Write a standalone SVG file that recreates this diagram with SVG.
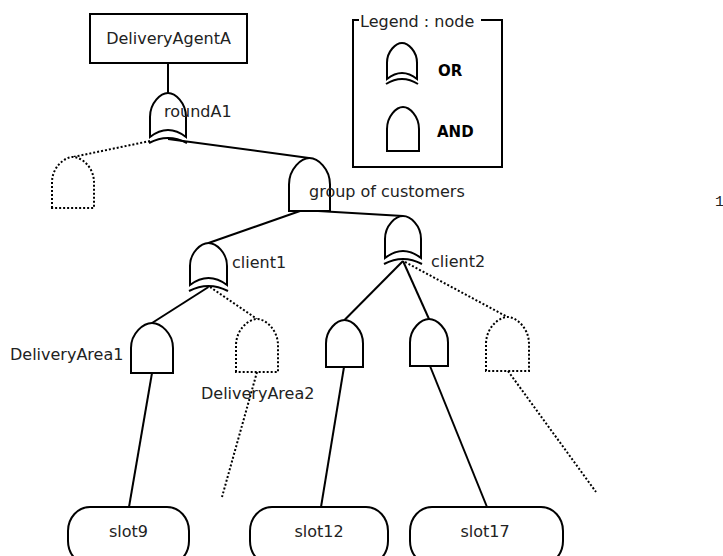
<svg xmlns="http://www.w3.org/2000/svg" width="723" height="556" viewBox="0 0 723 556">
<style>
.ln{stroke:#000;stroke-width:2;fill:none}
.dt{stroke:#000;stroke-width:2;fill:none;stroke-dasharray:2,2}
.g{stroke:#000;stroke-width:2;fill:#fff}
.gd{stroke:#000;stroke-width:2;fill:#fff;stroke-dasharray:2,2}
.t{font-family:"DejaVu Sans",sans-serif;font-size:16px;fill:#222}
.b{font-family:"DejaVu Sans",sans-serif;font-size:15px;font-weight:bold;fill:#000}
</style>
<rect width="723" height="556" fill="#fff"/>
<g id="connectors">
<line class="ln" x1="168" y1="63" x2="168" y2="93"/>
<line class="ln" x1="168" y1="139" x2="309" y2="158"/>
<line class="dt" x1="150" y1="141" x2="73" y2="157"/>
<line class="ln" x1="300" y1="211" x2="208.5" y2="243"/>
<line class="ln" x1="318" y1="211" x2="403" y2="216"/>
<line class="ln" x1="208.5" y1="287" x2="152" y2="323"/>
<line class="dt" x1="210" y1="287" x2="257" y2="319"/>
<line class="ln" x1="403" y1="261" x2="344.5" y2="320"/>
<line class="ln" x1="403" y1="261" x2="429" y2="319"/>
<line class="dt" x1="405" y1="262" x2="507.5" y2="317"/>
<line class="ln" x1="152" y1="373" x2="129" y2="507"/>
<line class="dt" x1="257" y1="372" x2="222" y2="497"/>
<line class="ln" x1="344" y1="367" x2="321" y2="507"/>
<line class="ln" x1="430" y1="366" x2="487" y2="507"/>
<line class="dt" x1="508" y1="371" x2="596" y2="492"/>
</g>
<g id="DeliveryAgentA">
<rect class="g" x="90" y="14" width="157" height="49"/>
<text class="t" x="168.5" y="44" text-anchor="middle">DeliveryAgentA</text>
</g>
<g id="roundA1">
<path class="g" d="M150,137 L150,117 C150,102.7 160.8,93 168,93 C175.2,93 186,102.7 186,117 L186,137 Q168,123 150,137 Z"/>
<path class="ln" d="M149,143 Q168,133 187,143"/>
<text class="t" x="164" y="117">roundA1</text>
</g>
<g id="hiddenA">
<path class="gd" d="M52,208 L52,182.5 C52,167 64.6,157 73,157 C81.4,157 94,167 94,182.5 L94,208 Z"/>
</g>
<g id="group">
<path class="g" d="M289,211 L289,184.5 C289,168.6 301.3,158 309.5,158 C317.7,158 330,168.6 330,184.5 L330,211 Z"/>
<text class="t" x="309" y="197">group of customers</text>
</g>
<g id="client1">
<path class="g" d="M190,285 L190,266 C190,252.2 201.1,243 208.5,243 C215.9,243 227,252.2 227,266 L227,285 Q208.5,271 190,285 Z"/>
<path class="ln" d="M189,291 Q208.5,281 228,291"/>
<text class="t" x="232" y="268">client1</text>
</g>
<g id="client2">
<path class="g" d="M385,258 L385,239 C385,225.2 395.8,216 403,216 C410.2,216 421,225.2 421,239 L421,258 Q403,244 385,258 Z"/>
<path class="ln" d="M384,264 Q403,254 422,264"/>
<text class="t" x="431" y="267">client2</text>
</g>
<g id="DeliveryArea1">
<path class="g" d="M131,373 L131,348 C131,333 143.6,323 152,323 C160.4,323 173,333 173,348 L173,373 Z"/>
<text class="t" x="10" y="360">DeliveryArea1</text>
</g>
<g id="DeliveryArea2">
<path class="gd" d="M236,372 L236,345.5 C236,329.6 248.6,319 257,319 C265.4,319 278,329.6 278,345.5 L278,372 Z"/>
<text class="t" x="201" y="399">DeliveryArea2</text>
</g>
<g id="and1">
<path class="g" d="M326,367 L326,343.5 C326,329.4 337.1,320 344.5,320 C351.9,320 363,329.4 363,343.5 L363,367 Z"/>
</g>
<g id="and2">
<path class="g" d="M410,366 L410,342.5 C410,328.4 421.4,319 429,319 C436.6,319 448,328.4 448,342.5 L448,366 Z"/>
</g>
<g id="hiddenB">
<path class="gd" d="M486,371 L486,344 C486,327.8 498.9,317 507.5,317 C516.1,317 529,327.8 529,344 L529,371 Z"/>
</g>
<g id="slot9">
<rect class="g" x="68" y="507" width="121" height="58" rx="22" ry="24"/>
<text class="t" x="128.5" y="537" text-anchor="middle">slot9</text>
</g>
<g id="slot12">
<rect class="g" x="250" y="507" width="138" height="58" rx="22" ry="24"/>
<text class="t" x="319" y="537" text-anchor="middle">slot12</text>
</g>
<g id="slot17">
<rect class="g" x="410" y="507" width="153" height="58" rx="22" ry="24"/>
<text class="t" x="485" y="537" text-anchor="middle">slot17</text>
</g>
<g id="legend">
<path class="ln" d="M359,20 L353,20 L353,167 L502,167 L502,20 L481,20"/>
<text class="t" x="360" y="27">Legend : node</text>
<path class="g" d="M387,79 L387,62.8 C387,51 396,43 402,43 C408,43 417,51 417,62.8 L417,79 Q402,67 387,79 Z"/>
<path class="ln" d="M386,84 Q402,74 418,84"/>
<text class="b" x="438" y="76">OR</text>
<path class="g" d="M387,151 L387,129 C387,115.8 396.6,107 403,107 C409.4,107 419,115.8 419,129 L419,151 Z"/>
<text class="b" x="437" y="137">AND</text>
</g>
<text x="715" y="206" font-family="'Liberation Mono',monospace" font-size="15" fill="#222">1</text>
</svg>
